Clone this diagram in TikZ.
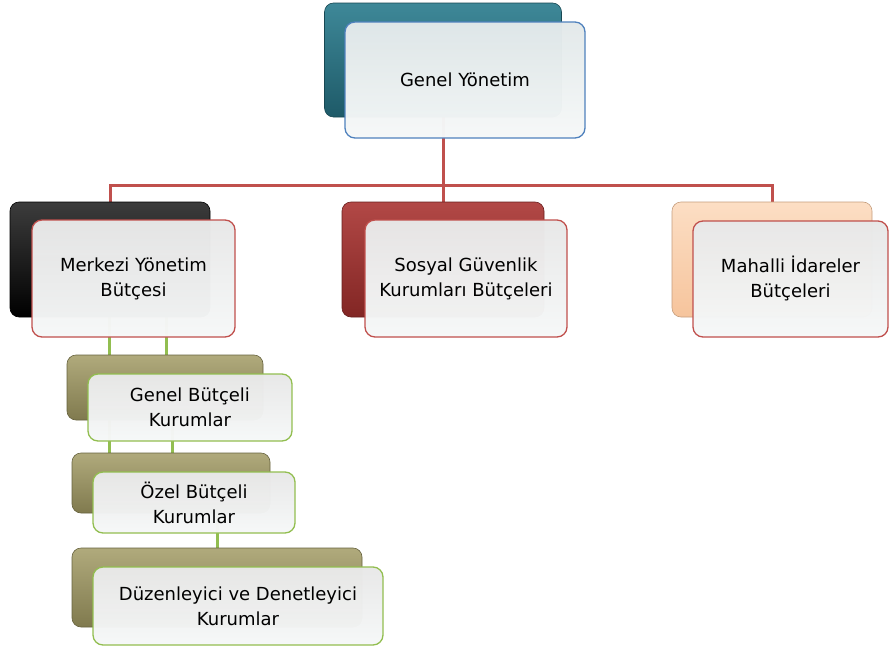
\documentclass[tikz,border=0pt]{standalone}
\usepackage{fontspec}
\setmainfont{DejaVu Sans}
\usetikzlibrary{calc}
\pgfdeclarelayer{bg}
\pgfsetlayers{bg,main}
\definecolor{tealA}{RGB}{62,136,152}
\definecolor{tealB}{RGB}{30,90,104}
\definecolor{darkredA}{RGB}{178,72,70}
\definecolor{darkredB}{RGB}{130,38,36}
\definecolor{peachA}{RGB}{252,222,196}
\definecolor{peachB}{RGB}{246,196,156}
\definecolor{oliveA}{RGB}{176,170,124}
\definecolor{oliveB}{RGB}{128,122,78}
\definecolor{blackA}{RGB}{60,60,60}
\definecolor{blackB}{RGB}{0,0,0}
\definecolor{blueE}{RGB}{79,129,189}
\definecolor{redE}{RGB}{192,80,77}
\definecolor{greenE}{RGB}{146,190,80}
\definecolor{frontA}{RGB}{226,233,234}
\definecolor{frontB}{RGB}{246,248,248}
\definecolor{frontG}{RGB}{232,232,232}
\tikzset{
  x=1pt, y=-1pt,
  backbox/.style={rounded corners=9pt, inner sep=0pt, draw=#1B!80!black, line width=0.6pt,
    top color=#1A, bottom color=#1B},
  frontbox/.style={rounded corners=10pt, inner sep=2pt, draw=#1, line width=1.3pt,
    top color=frontA, bottom color=frontB, fill opacity=0.98, text opacity=1,
    align=center, font=\fontsize{18}{25}\selectfont, text=black},
  redline/.style={draw=redE, line width=3pt},
  greenline/.style={draw=greenE, line width=3pt},
}
\begin{document}
\begin{tikzpicture}
\useasboundingbox (0,0) rectangle (889,653);
% top
\node[backbox=teal, minimum width=237pt, minimum height=114pt] (tb) at (443,60) {};
\node[frontbox=blueE, minimum width=240pt, minimum height=116pt] (tf) at (465,80) {Genel Yönetim};
% level 2
\node[backbox=black, minimum width=200pt, minimum height=115pt] (mb) at (110,259.5) {};
\node[frontbox=redE, minimum width=203pt, minimum height=117pt, top color=frontG, bottom color=frontB] (mf) at (133.5,278.5) {Merkezi Yönetim\\Bütçesi};
\node[backbox=darkred, minimum width=202pt, minimum height=115pt] (sb) at (443,259.5) {};
\node[frontbox=redE, minimum width=202pt, minimum height=117pt, top color=frontG, bottom color=frontB] (sf) at (466,278.5) {Sosyal Güvenlik\\Kurumları Bütçeleri};
\node[backbox=peach, minimum width=200pt, minimum height=115pt] (hb) at (772,259.5) {};
\node[frontbox=redE, minimum width=195pt, minimum height=116pt, top color=frontG, bottom color=frontB] (hf) at (790.5,279) {Mahalli İdareler\\Bütçeleri};
% level 3
\node[backbox=olive, minimum width=196pt, minimum height=65pt] (gb) at (165,387.5) {};
\node[frontbox=greenE, minimum width=204pt, minimum height=67pt, top color=frontG, bottom color=frontB] (gf) at (190,407.5) {Genel Bütçeli\\Kurumlar};
\node[backbox=olive, minimum width=198pt, minimum height=60pt] (ob) at (171,483) {};
\node[frontbox=greenE, minimum width=202pt, minimum height=61pt, top color=frontG, bottom color=frontB] (of) at (194,502.5) {Özel Bütçeli\\Kurumlar};
\node[backbox=olive, minimum width=290pt, minimum height=79pt] (db) at (217,587.5) {};
\node[frontbox=greenE, minimum width=290pt, minimum height=78pt, top color=frontG, bottom color=frontB] (df) at (238,606) {Düzenleyici ve Denetleyici\\Kurumlar};
% connectors
\coordinate (bus) at (443,185);
\coordinate (gx1) at (109,0);
\coordinate (gx2) at (166,0);
\coordinate (gx3) at (172,0);
\coordinate (gx4) at (217,0);
\begin{pgfonlayer}{bg}
\draw[redline] (tb.center) -- (sb.north);
\draw[redline] (tb.center |- bus) -| (mb.north);
\draw[redline] (tb.center |- bus) -| (hb.north);
\draw[greenline] (mf.center -| gx1) -- (ob.north -| gx1);
\draw[greenline] (mf.center -| gx2) -- (gb.north -| gx2);
\draw[greenline] (gf.center -| gx3) -- (ob.north -| gx3);
\draw[greenline] (of.center -| gx4) -- (db.north -| gx4);
\end{pgfonlayer}
\end{tikzpicture}
\end{document}
